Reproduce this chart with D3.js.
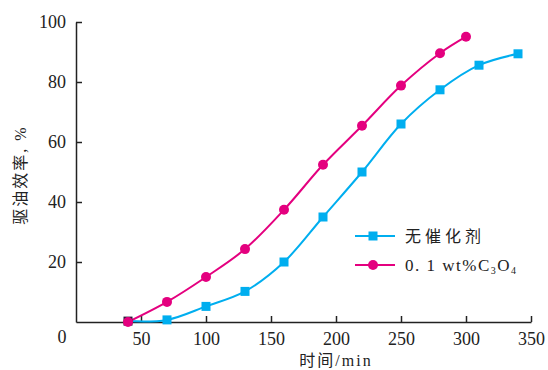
<!DOCTYPE html>
<html>
<head>
<meta charset="utf-8">
<script src="https://cdn.jsdelivr.net/npm/d3@7"></script>
<style>
  body { margin: 0; background: #fff; }
  svg text { font-family: 'Liberation Serif', 'Noto Sans CJK SC', serif; fill: #222; }
</style>
</head>
<body>
<div id="chart"></div>
<script>
// data
var times = [40, 70, 100, 130, 160, 190, 220, 250, 280, 310, 340];
var noCatalyst = [0.3, 0.7, 5.2, 10.2, 20, 35, 50, 66, 77.4, 85.6, 89.4];
var timesC3O4 = [40, 70, 100, 130, 160, 190, 220, 250, 280, 300];
var withC3O4 = [0, 6.7, 15, 24.3, 37.4, 52.4, 65.4, 78.8, 89.6, 95.1];
var xTicks = [50, 100, 150, 200, 250, 300, 350];
var yTicks = [20, 40, 60, 80, 100];

var blue = "#00aeef", pink = "#e4007f";
var serif = "'Liberation Serif', 'Noto Sans CJK SC', serif";

// set the dimensions and margins of the graph
var margin = {top: 22, right: 17, bottom: 48, left: 76},
    width = 548 - margin.left - margin.right,
    height = 370 - margin.top - margin.bottom;

var x = d3.scaleLinear().domain([0, 350]).range([0, width]);
var y = d3.scaleLinear().domain([0, 100]).range([height, 0]);

var svg = d3.select("#chart")
  .append("svg")
    .attr("width", 548)
    .attr("height", 370)
  .append("g")
    .attr("transform", "translate(" + margin.left + "," + margin.top + ")");

// axes, ticks pointing inward
var xAxis = svg.append("g")
    .attr("transform", "translate(0," + height + ")")
    .call(d3.axisBottom(x).tickValues(xTicks).tickSizeInner(-6).tickSizeOuter(0).tickPadding(10));
var yAxis = svg.append("g")
    .call(d3.axisLeft(y).tickValues(yTicks).tickSizeInner(-6).tickSizeOuter(0).tickPadding(10));

[xAxis, yAxis].forEach(function(a) {
  a.attr("font-family", serif).attr("font-size", 18);
  a.select(".domain").attr("stroke", "#222").attr("stroke-width", 1.5);
  a.selectAll(".tick line").attr("stroke", "#222").attr("stroke-width", 1.5);
  a.selectAll(".tick text").attr("fill", "#222");
});

// shared zero at the corner
svg.append("text")
    .attr("x", -14).attr("y", height + 21)
    .attr("text-anchor", "middle")
    .style("font-size", "18px")
    .text("0");

// axis titles
svg.append("text")
    .attr("x", x(200)).attr("y", height + 44)
    .attr("text-anchor", "middle")
    .style("font-size", "16px")
    .style("letter-spacing", "2px")
    .text("时间/min");

svg.append("text")
    .attr("transform", "translate(" + (-50) + "," + y(49) + ") rotate(-90)")
    .attr("text-anchor", "middle")
    .style("font-size", "16px")
    .style("letter-spacing", "2px")
    .text("驱油效率, %");

// lines
var line = d3.line()
    .curve(d3.curveCatmullRom)
    .x(function(d) { return x(d[0]); })
    .y(function(d) { return y(d[1]); });

var blueData = d3.zip(times, noCatalyst);
var pinkData = d3.zip(timesC3O4, withC3O4);

svg.append("path")
    .datum(blueData)
    .attr("d", line)
    .attr("fill", "none")
    .attr("stroke", blue)
    .attr("stroke-width", 2);

svg.append("path")
    .datum(pinkData)
    .attr("d", line)
    .attr("fill", "none")
    .attr("stroke", pink)
    .attr("stroke-width", 2);

svg.selectAll(".sq")
    .data(blueData)
  .enter().append("rect")
    .attr("class", "sq")
    .attr("x", function(d) { return x(d[0]) - 4.5; })
    .attr("y", function(d) { return y(d[1]) - 4.5; })
    .attr("width", 9)
    .attr("height", 9)
    .attr("fill", function(d, i) { return i === 0 ? "#2a1a3a" : blue; });

svg.selectAll(".dot")
    .data(pinkData)
  .enter().append("circle")
    .attr("class", "dot")
    .attr("cx", function(d) { return x(d[0]); })
    .attr("cy", function(d) { return y(d[1]); })
    .attr("r", 5)
    .attr("fill", pink);

// legend
var legend = svg.append("g")
    .attr("transform", "translate(" + (355 - margin.left) + "," + (236 - margin.top) + ")");

legend.append("line").attr("x1", 0).attr("x2", 40).attr("y1", 0).attr("y2", 0)
    .attr("stroke", blue).attr("stroke-width", 2);
legend.append("rect").attr("x", 18 - 4.5).attr("y", -4.5).attr("width", 9).attr("height", 9).attr("fill", blue);
legend.append("text").attr("x", 50).attr("y", 6).style("font-size", "16px")
    .style("letter-spacing", "4px").text("无催化剂");

legend.append("line").attr("x1", 0).attr("x2", 40).attr("y1", 29).attr("y2", 29)
    .attr("stroke", pink).attr("stroke-width", 2);
legend.append("circle").attr("cx", 18).attr("cy", 29).attr("r", 5).attr("fill", pink);
var t2 = legend.append("text").attr("x", 50).attr("y", 35).style("font-size", "17px")
    .style("letter-spacing", "1.5px");
t2.append("tspan").text("0. 1 wt%C");
t2.append("tspan").attr("dy", 3).style("font-size", "10px").text("3");
t2.append("tspan").attr("dy", -3).text("O");
t2.append("tspan").attr("dy", 3).style("font-size", "10px").text("4");
</script>
</body>
</html>
